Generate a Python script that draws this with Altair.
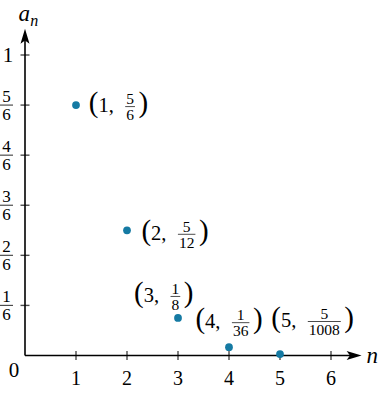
import altair as alt
import pandas as pd

# ---- data ----
n_vals = [1, 2, 3, 4, 5]
num_vals = [5, 5, 1, 1, 5]
den_vals = [6, 12, 8, 36, 1008]
x_ticks = [1, 2, 3, 4, 5, 6]
y_tick_num = [1, 2, 3, 4, 5]
y_tick_den = 6
y_tick_top = 1

# label placement: pixel offset of the label's "(" left edge / vertical centre from its point
lab_dx = [12.7, 14.4, -44, -33.6, -8.7]
lab_dy = [0, 2.5, -23, -26, -34]

# ---- layout ----
X_MAX = 6.6
Y_MAX = 1.087
XPX = 51.0
YPX = 300.5
W = X_MAX * XPX
H = Y_MAX * YPX
PAD_L = 25
PAD_T = 355.5 - H
SERIF = "'Liberation Serif', serif"
DOT = "#157aa3"
PAREN = 29
FRAC = 15.5

xs = alt.Scale(domain=[0, X_MAX], nice=False, zero=False)
ys = alt.Scale(domain=[0, Y_MAX], nice=False, zero=False)


def X(f, t="Q"):
    return alt.X(f"{f}:{t}", scale=xs, axis=None)


def Y(f, t="Q"):
    return alt.Y(f"{f}:{t}", scale=ys, axis=None)


one = pd.DataFrame({"k": [0]})

# points
pts = pd.DataFrame({"n": n_vals, "num": num_vals, "den": den_vals})
pts["a"] = pts["num"] / pts["den"]

# label pieces
rows = []
for i, (n, nu, de) in enumerate(zip(n_vals, num_vals, den_vals)):
    a = nu / de
    fw = max(len(str(nu)), len(str(de))) * FRAC * 0.5 + 2
    L = n + lab_dx[i] / XPX
    C = a - lab_dy[i] / YPX
    rows.append(dict(
        L=L, C=C,
        nx=L + 9.7 / XPX,
        fx=L + (36.5 + fw / 2) / XPX,
        rx=L + (36.5 + fw + 3.5) / XPX,
        by=C - 1.5 / YPX,
        fw=fw,
        ntxt=f"{n},",
        num=str(nu),
        den=str(de),
    ))
lab = pd.DataFrame(rows)

# axes lines
ax_line_x = alt.Chart(one).mark_rule(color="black", strokeWidth=1.6).encode(
    x=alt.X(datum=0, scale=xs, axis=None), x2=alt.datum(X_MAX - 10 / XPX),
    y=alt.Y(datum=0, scale=ys, axis=None))
ax_line_y = alt.Chart(one).mark_rule(color="black", strokeWidth=1.6).encode(
    y=alt.Y(datum=0, scale=ys, axis=None), y2=alt.datum(Y_MAX - 10 / YPX),
    x=alt.X(datum=0, scale=xs, axis=None))

arrow_r = alt.Chart(one).mark_point(
    shape="M1,0 L-1,-0.6 L-0.55,0 L-1,0.6 Z", size=225, filled=True,
    color="black", opacity=1, strokeWidth=0).encode(
    x=alt.X(datum=X_MAX - 7.5 / XPX, scale=xs, axis=None),
    y=alt.Y(datum=0, scale=ys, axis=None))
arrow_u = alt.Chart(one).mark_point(
    shape="M0,-1 L-0.6,1 L0,0.55 L0.6,1 Z", size=225, filled=True,
    color="black", opacity=1, strokeWidth=0).encode(
    x=alt.X(datum=0, scale=xs, axis=None),
    y=alt.Y(datum=Y_MAX - 7.5 / YPX, scale=ys, axis=None))

# ticks
xt = pd.DataFrame({"v": x_ticks})
x_tick_marks = alt.Chart(xt).mark_tick(orient="vertical", size=9, thickness=1.4, color="black").encode(
    x=X("v"), y=alt.Y(datum=0, scale=ys, axis=None))
x_tick_labels = alt.Chart(xt).mark_text(font=SERIF, fontSize=20, baseline="alphabetic", dy=29.5,
                                        color="black").encode(
    x=X("v"), y=alt.Y(datum=0, scale=ys, axis=None), text="v:N")

yt = pd.DataFrame({"num": y_tick_num})
yt["v"] = yt["num"] / y_tick_den
yt["den"] = str(y_tick_den)
yt_all = pd.DataFrame({"v": [v for v in yt["v"]] + [y_tick_top]})
y_tick_marks = alt.Chart(yt_all).mark_tick(orient="horizontal", size=9, thickness=1.4, color="black").encode(
    y=Y("v"), x=alt.X(datum=0, scale=xs, axis=None))
y_num = alt.Chart(yt).mark_text(font=SERIF, fontSize=17, baseline="alphabetic", dx=-18.5, dy=-3.3,
                                color="black").encode(
    y=Y("v"), x=alt.X(datum=0, scale=xs, axis=None), text="num:N")
y_den = alt.Chart(yt).mark_text(font=SERIF, fontSize=17, baseline="alphabetic", dx=-18.5, dy=15,
                                color="black").encode(
    y=Y("v"), x=alt.X(datum=0, scale=xs, axis=None), text="den:N")
y_bar = alt.Chart(yt).mark_tick(orient="horizontal", size=13, thickness=1.2, color="black", xOffset=-18.5).encode(
    y=Y("v"), x=alt.X(datum=0, scale=xs, axis=None))
y_top = alt.Chart(pd.DataFrame({"v": [y_tick_top]})).mark_text(
    font=SERIF, fontSize=21, baseline="alphabetic", dx=-17, dy=7, color="black").encode(
    y=Y("v"), x=alt.X(datum=0, scale=xs, axis=None), text="v:N")
zero_lab = alt.Chart(pd.DataFrame({"v": [0]})).mark_text(
    font=SERIF, fontSize=21, baseline="alphabetic", dx=-11, dy=21.5, color="black").encode(
    y=Y("v"), x=X("v"), text="v:N")

# axis titles
t_a = alt.Chart(one).mark_text(font=SERIF, fontStyle="italic", fontSize=23, align="left",
                               baseline="alphabetic", dx=-6.5, dy=-8, color="black").encode(
    x=alt.X(datum=0, scale=xs, axis=None), y=alt.Y(datum=Y_MAX, scale=ys, axis=None),
    text=alt.value("a"))
t_an = alt.Chart(one).mark_text(font=SERIF, fontStyle="italic", fontSize=16, align="left",
                                baseline="alphabetic", dx=5.3, dy=-2.5, color="black").encode(
    x=alt.X(datum=0, scale=xs, axis=None), y=alt.Y(datum=Y_MAX, scale=ys, axis=None),
    text=alt.value("n"))
t_n = alt.Chart(one).mark_text(font=SERIF, fontStyle="italic", fontSize=23, align="left",
                               baseline="alphabetic", dx=5, dy=7.5, color="black").encode(
    x=alt.X(datum=X_MAX, scale=xs, axis=None), y=alt.Y(datum=0, scale=ys, axis=None),
    text=alt.value("n"))

# points
dots = alt.Chart(pts).mark_circle(size=60, color=DOT, opacity=1).encode(x=X("n"), y=Y("a"))

# point labels
lb = alt.Chart(lab)
p_open = lb.mark_text(font=SERIF, fontSize=PAREN, align="left", baseline="alphabetic", dy=7.25,
                      color="black").encode(x=X("L"), y=Y("C"), text=alt.value("("))
p_close = lb.mark_text(font=SERIF, fontSize=PAREN, align="left", baseline="alphabetic", dy=7.25,
                       color="black").encode(x=X("rx"), y=Y("C"), text=alt.value(")"))
p_n = lb.mark_text(font=SERIF, fontSize=20.5, align="left", baseline="alphabetic", dy=6.9,
                   color="black").encode(x=X("nx"), y=Y("C"), text="ntxt:N")
p_num = lb.mark_text(font=SERIF, fontSize=FRAC, align="center", baseline="alphabetic", dy=-2.6,
                     color="black").encode(x=X("fx"), y=Y("by"), text="num:N")
p_den = lb.mark_text(font=SERIF, fontSize=FRAC, align="center", baseline="alphabetic", dy=13.3,
                     color="black").encode(x=X("fx"), y=Y("by"), text="den:N")
p_bar = lb.mark_tick(orient="horizontal", thickness=1, color="black").encode(
    x=X("fx"), y=Y("by"), size=alt.Size("fw:Q", scale=None))

chart = alt.layer(
    ax_line_x, ax_line_y, arrow_r, arrow_u,
    x_tick_marks, x_tick_labels, y_tick_marks, y_num, y_den, y_bar, y_top, zero_lab,
    t_a, t_an, t_n,
    dots, p_open, p_close, p_n, p_num, p_den, p_bar,
).properties(
    width=W, height=H,
    padding={"left": PAD_L, "top": PAD_T, "right": 378 - PAD_L - W, "bottom": 395 - 355.5},
    autosize=alt.AutoSizeParams(type="none"),
    background="white",
).configure_view(stroke=None)

chart.save("out.html", embed_options={"renderer": "svg", "actions": False})
